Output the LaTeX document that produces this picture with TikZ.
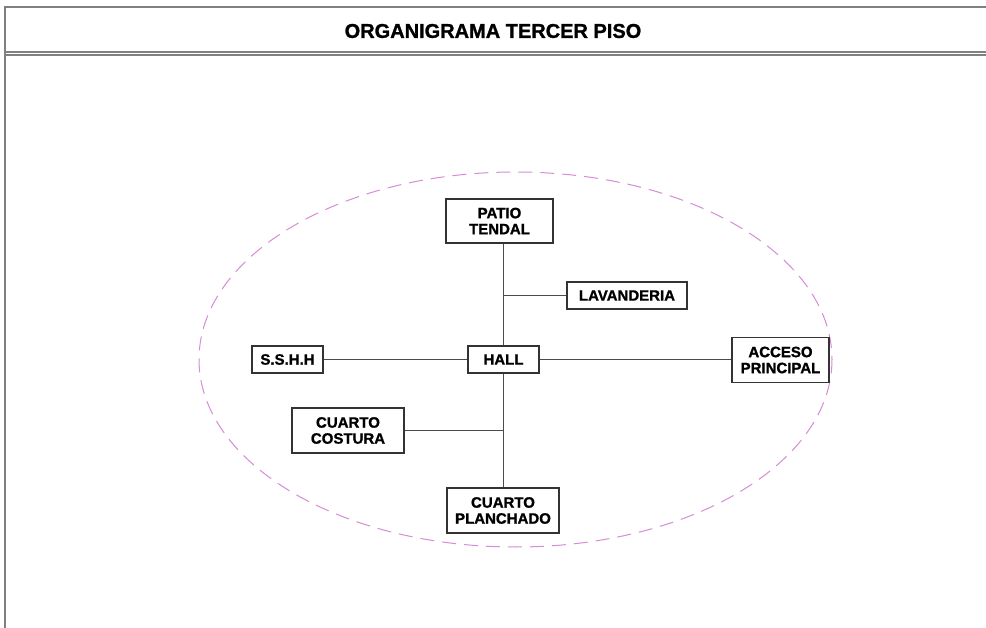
\documentclass[tikz,border=0pt]{standalone}
\usepackage{fontspec}
\setmainfont{Liberation Sans}[BoldFeatures={FakeBold=1.2}]
\begin{document}
\begin{tikzpicture}[x=1pt,y=-1pt,
  frameline/.style={draw=black!50,line width=1.6pt},
  room/.style={draw=black!80,line width=1.2pt,fill=white,inner sep=0pt,align=center,
    font=\bfseries\fontsize{15}{16}\selectfont},
  link/.style={draw=black!70,line width=1pt},
  zone/.style={draw={rgb,255:red,214;green,140;blue,214},line width=1pt,dash pattern=on 14pt off 8pt}]
\useasboundingbox (0,0) rectangle (986,628);
\fill[white] (0,0) rectangle (986,628);

% page frame and title band
\draw[frameline] (5,628) -- (5,7) -- (986,7);
\draw[frameline] (5,52) -- (986,52);
\draw[frameline] (5,55) -- (986,55);
\node[font=\bfseries\fontsize{20}{22}\selectfont] (title) at (493,31) {ORGANIGRAMA TERCER PISO};

% zone boundary
\draw[zone] (515.5,359.5) ellipse [x radius=316.5,y radius=187.5];

% rooms
\node[room,minimum width=107pt,minimum height=44pt] (patio) at (499.5,221) {PATIO\\TENDAL};
\node[room,minimum width=120pt,minimum height=27pt] (lav) at (627,295.5) {LAVANDERIA};
\node[room,minimum width=71pt,minimum height=27pt] (hall) at (503.5,359.5) {HALL};
\node[room,minimum width=71pt,minimum height=27pt] (sshh) at (287.5,359.5) {S.S.H.H};
\node[room,minimum width=97pt,minimum height=45pt] (acceso) at (780.5,360) {ACCESO\\PRINCIPAL};
\node[room,minimum width=112pt,minimum height=45pt] (costura) at (348,430.5) {CUARTO\\COSTURA};
\node[room,minimum width=112pt,minimum height=45pt] (planchado) at (503,510.5) {CUARTO\\PLANCHADO};

% connections
\draw[link] (hall.north) -- (hall.north |- patio.south);
\draw[link] (lav.west) -- (lav.west -| hall.north);
\draw[link] (hall.south) -- (hall.south |- planchado.north);
\draw[link] (costura.east) -- (costura.east -| hall.south);
\draw[link] (sshh.east) -- (hall.west);
\draw[link] (hall.east) -- (acceso.west |- hall.east);
\end{tikzpicture}
\end{document}
